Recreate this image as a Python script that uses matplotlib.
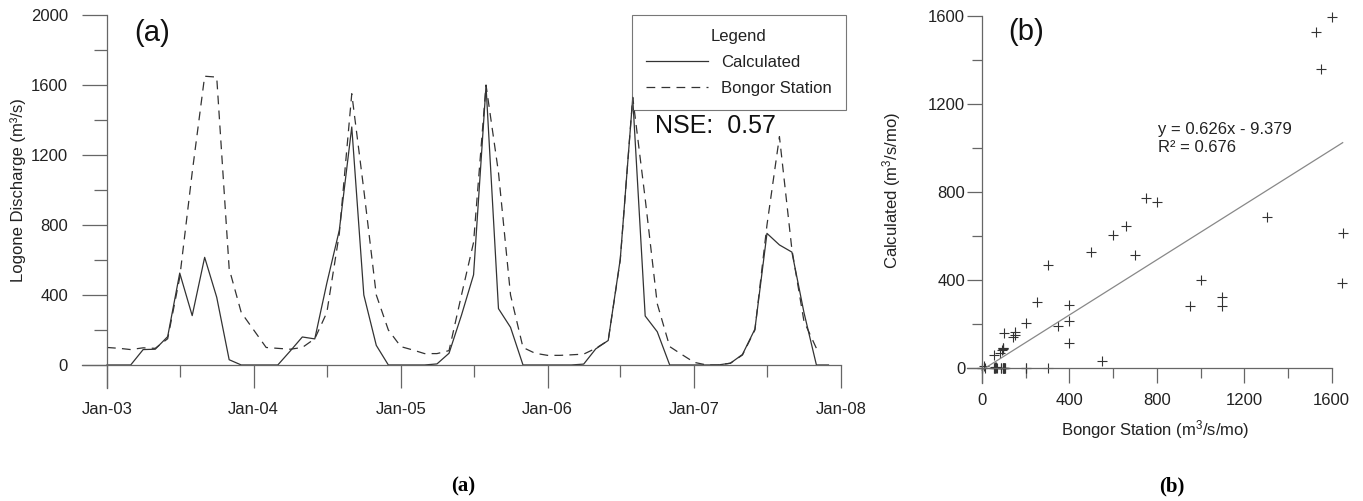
import numpy as np
import pandas as pd
import matplotlib
matplotlib.use('Agg')
import matplotlib.pyplot as plt
import matplotlib.dates as mdates
from matplotlib.ticker import MultipleLocator

plt.rcParams['font.family'] = ['Liberation Sans', 'DejaVu Sans']
plt.rcParams['mathtext.fontset'] = 'custom'
plt.rcParams['mathtext.rm'] = 'Liberation Sans'
plt.rcParams['mathtext.it'] = 'Liberation Sans:italic'

# monthly series Jan-2003 .. Dec-2007
months = pd.date_range('2003-01-01', periods=60, freq='MS')

calculated = [
    0, 0, 0, 88, 90, 162, 525, 282, 615, 387, 30, 0,          # 2003
    0, 0, 0, 80, 160, 149, 468, 770, 1360, 400, 112, 0,       # 2004
    0, 0, 0, 6, 67, 285, 515, 1595, 322, 215, 0, 0,           # 2005
    0, 0, 0, 5, 92, 140, 605, 1525, 280, 190, 0, 0,           # 2006
    0, 0, 0, 10, 60, 205, 752, 686, 645, 300, 0, 0,           # 2007
]
bongor = [
    100, 95, 88, 98, 95, 150, 500, 1100, 1650, 1645, 550, 300,
    200, 100, 95, 90, 100, 150, 300, 750, 1550, 1000, 400, 200,
    105, 85, 65, 65, 82, 400, 700, 1600, 1100, 400, 100, 67,
    55, 55, 58, 62, 95, 140, 600, 1530, 950, 350, 105, 60,
    15, 0, 0, 10, 57, 200, 800, 1305, 660, 250, 95, np.nan,
]

nse = 0.57
slope = 0.626
intercept = -9.379
r2 = 0.676

line_col = '#333333'
axis_col = '#666666'
text_col = '#222222'

fig = plt.figure(figsize=(13.63, 5.01), dpi=100)

# ---------------- (a) time series ----------------
ax1 = fig.add_axes([0.0605, 0.2261, 0.5606, 0.744])
ax1.plot(months, calculated, color=line_col, lw=0.9, label='Calculated')
ax1.plot(months, bongor, color=line_col, lw=0.9, dashes=(7, 5), label='Bongor Station')

x_left = pd.Timestamp('2002-11-01')
x_right = pd.Timestamp('2008-01-15')
ax1.set_xlim(x_left, x_right)
ax1.set_ylim(-130, 2000)

for s in ['top', 'right']:
    ax1.spines[s].set_visible(False)
ax1.spines['left'].set_position(('data', mdates.date2num(pd.Timestamp('2003-01-01'))))
ax1.spines['bottom'].set_position(('data', 0))
ax1.spines['bottom'].set_bounds(mdates.date2num(x_left), mdates.date2num(pd.Timestamp('2008-01-01')))
for s in ['left', 'bottom']:
    ax1.spines[s].set_color(axis_col)
    ax1.spines[s].set_linewidth(0.9)

ax1.xaxis.set_major_locator(mdates.YearLocator())
ax1.xaxis.set_minor_locator(mdates.MonthLocator(bymonth=7))
ax1.xaxis.set_major_formatter(mdates.DateFormatter('%b-%y'))
ax1.yaxis.set_major_locator(MultipleLocator(400))
ax1.yaxis.set_minor_locator(MultipleLocator(200))
ax1.tick_params(axis='x', which='major', length=16.5, width=0.9, pad=10)
ax1.tick_params(axis='x', which='minor', length=8.6, width=0.9)
ax1.tick_params(axis='y', which='major', length=18, width=0.9, pad=10)
ax1.tick_params(axis='y', which='minor', length=9.4, width=0.9)
ax1.tick_params(which='both', direction='out', color=axis_col, labelcolor=text_col, labelsize=12)

ax1.set_ylabel('Logone Discharge (m³/s)', fontsize=12, color=text_col)
ax1.yaxis.set_label_coords(-0.074, 0.5305)

leg = ax1.legend(title='Legend', loc='upper right', bbox_to_anchor=(0.9993, 1.0),
                 borderaxespad=0, fancybox=False, edgecolor='#555555', facecolor='none',
                 fontsize=12, title_fontsize=12, handlelength=3.7, handletextpad=0.8,
                 labelspacing=0.65, borderpad=0.85)
leg.get_frame().set_linewidth(0.8)
for t in leg.get_texts():
    t.set_color(text_col)
leg.get_title().set_color(text_col)

ax1.text(0.749, 0.702, f'NSE:  {nse:.2f}', transform=ax1.transAxes, fontsize=18,
         ha='left', va='center', color='#111111')
ax1.text(0.091, 0.952, '(a)', transform=ax1.transAxes, fontsize=21,
         ha='center', va='center', color='#111111')

# ---------------- (b) scatter ----------------
ax2 = fig.add_axes([0.7095, 0.2355, 0.2804, 0.7331])
b = np.array(bongor, dtype=float)
c = np.array(calculated, dtype=float)
ok = ~np.isnan(b)
ax2.plot(b[ok], c[ok], '+', color=line_col, ms=7, mew=0.8, clip_on=False)
xs = np.array([np.nanmin(b), np.nanmax(b)])
ax2.plot(xs, slope * xs + intercept, color='#888888', lw=0.9)

ax2.set_xlim(-68, 1680)
ax2.set_ylim(-68, 1600)
for s in ['top', 'right']:
    ax2.spines[s].set_visible(False)
ax2.spines['left'].set_position(('data', 0))
ax2.spines['bottom'].set_position(('data', 0))
ax2.spines['bottom'].set_bounds(-68, 1600)
for s in ['left', 'bottom']:
    ax2.spines[s].set_color(axis_col)
    ax2.spines[s].set_linewidth(0.9)

for axis in [ax2.xaxis, ax2.yaxis]:
    axis.set_major_locator(MultipleLocator(400))
    axis.set_minor_locator(MultipleLocator(200))
ax2.tick_params(which='major', length=11, width=0.9)
ax2.tick_params(which='minor', length=7, width=0.9)
ax2.tick_params(axis='x', which='major', pad=7)
ax2.tick_params(axis='y', which='major', pad=1)
ax2.tick_params(which='both', direction='out', color=axis_col, labelcolor=text_col, labelsize=12)

ax2.set_ylabel('Calculated (m$^{3}$/s/mo)', fontsize=12, color=text_col)
ax2.yaxis.set_label_coords(-0.168, 0.5227)
ax2.set_xlabel('Bongor Station (m$^{3}$/s/mo)', fontsize=12, color=text_col)
ax2.xaxis.set_label_coords(0.4916, -0.0953)

sign = '-' if intercept < 0 else '+'
ax2.text(0.4995, 0.712, f'y = {slope:.3f}x {sign} {abs(intercept):.3f}\nR² = {r2:.3f}',
         transform=ax2.transAxes, fontsize=12, ha='left', va='top', linespacing=1.3,
         color=text_col)
ax2.text(0.154, 0.9556, '(b)', transform=ax2.transAxes, fontsize=21,
         ha='center', va='center', color='#111111')

# captions
fig.text(463 / 1363, 1 - 486 / 501, '(a)', fontfamily='Liberation Serif', fontweight='bold',
         fontsize=15, ha='center', va='center')
fig.text(1172 / 1363, 1 - 486 / 501, '(b)', fontfamily='Liberation Serif', fontweight='bold',
         fontsize=15, ha='center', va='center')

fig.savefig('out.png', dpi=100)
